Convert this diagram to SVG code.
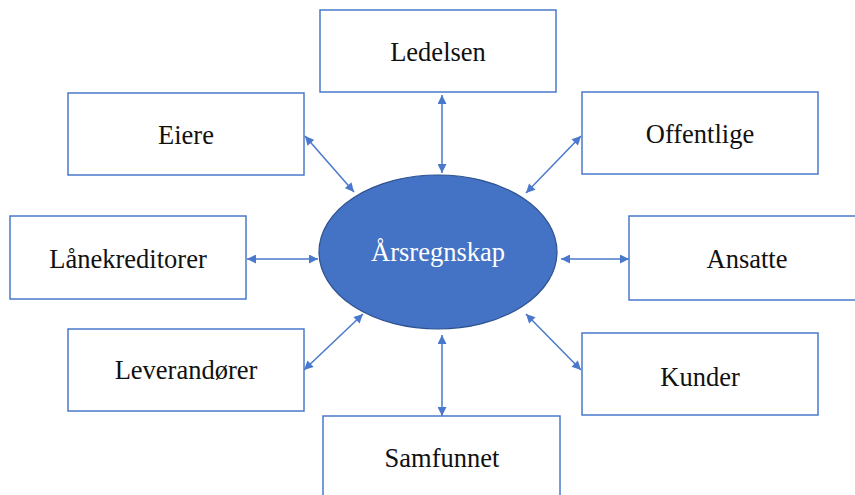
<svg xmlns="http://www.w3.org/2000/svg" width="855" height="495" viewBox="0 0 855 495">
<style>
.box{fill:#fff;stroke:#4a78cc;stroke-width:1.5}
.lbl{font-family:"Liberation Serif","Times New Roman",serif;font-size:26.5px;fill:#111;text-anchor:middle}
.conn{stroke:#4a78cc;stroke-width:1.5;fill:none;marker-start:url(#ah);marker-end:url(#ah)}
</style>
<defs>
<marker id="ah" viewBox="0 0 10 10" refX="10" refY="5" markerWidth="10" markerHeight="9" markerUnits="userSpaceOnUse" orient="auto-start-reverse">
<path d="M0,0 L10,5 L0,10 z" fill="#4a78cc"/>
</marker>
</defs>
<rect width="855" height="495" fill="#fff"/>
<g id="connectors">
<line class="conn" x1="442" y1="95" x2="442" y2="173"/>
<line class="conn" x1="305" y1="136" x2="354" y2="192"/>
<line class="conn" x1="581" y1="136" x2="526" y2="193"/>
<line class="conn" x1="247" y1="259" x2="318" y2="259"/>
<line class="conn" x1="629" y1="259" x2="561" y2="259"/>
<line class="conn" x1="304" y1="370" x2="363" y2="314"/>
<line class="conn" x1="581" y1="370" x2="526" y2="314"/>
<line class="conn" x1="442" y1="335" x2="442" y2="416"/>
</g>
<g id="center">
<ellipse cx="438" cy="252" rx="119" ry="77" fill="#4472c4" stroke="#2f528f" stroke-width="1.2"/>
<text class="lbl" x="438" y="261" style="fill:#fff">Årsregnskap</text>
</g>
<g id="ledelsen">
<rect class="box" x="320" y="10" width="236" height="82"/>
<text class="lbl" x="438" y="61">Ledelsen</text>
</g>
<g id="eiere">
<rect class="box" x="68" y="93" width="236" height="82"/>
<text class="lbl" x="186" y="144">Eiere</text>
</g>
<g id="offentlige">
<rect class="box" x="582" y="92" width="236" height="82"/>
<text class="lbl" x="700" y="143">Offentlige</text>
</g>
<g id="lanekreditorer">
<rect class="box" x="10" y="216" width="236" height="83"/>
<text class="lbl" x="128" y="268">Lånekreditorer</text>
</g>
<g id="ansatte">
<rect class="box" x="629" y="216" width="236" height="84"/>
<text class="lbl" x="747" y="268">Ansatte</text>
</g>
<g id="leverandorer">
<rect class="box" x="68" y="329" width="236" height="82"/>
<text class="lbl" x="186" y="379">Leverandører</text>
</g>
<g id="kunder">
<rect class="box" x="582" y="333" width="236" height="82"/>
<text class="lbl" x="700" y="386">Kunder</text>
</g>
<g id="samfunnet">
<rect class="box" x="323" y="416" width="237" height="90"/>
<text class="lbl" x="442" y="467">Samfunnet</text>
</g>
</svg>
